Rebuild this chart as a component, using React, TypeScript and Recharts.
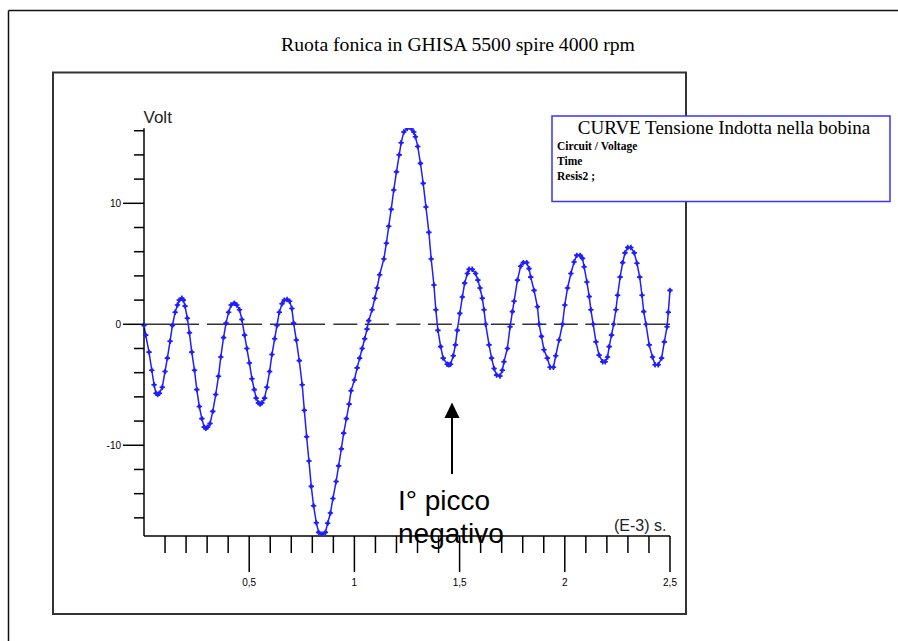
import { LineChart, Line, XAxis, YAxis, ReferenceLine } from 'recharts';

// samples: [time (ms), volt]
const seg0: [number, number][] = [
  [0, -0.1], [0.008, -0.9], [0.024, -2.3], [0.037, -3.8], [0.048, -5.0], [0.057, -5.7],
  [0.065, -5.8], [0.073, -5.7], [0.087, -5.2], [0.1, -3.9], [0.111, -2.8], [0.124, -1.4],
  [0.135, -0.1], [0.148, 1.0], [0.159, 1.6], [0.168, 2.0], [0.18, 2.15], [0.187, 2.0],
  [0.195, 1.5], [0.206, 0.5], [0.216, -0.7], [0.227, -2.3], [0.24, -3.8],
];
const seg1: [number, number][] = [
  [0.251, -5.4], [0.263, -6.8], [0.275, -7.8], [0.286, -8.5], [0.294, -8.6], [0.302, -8.5],
  [0.314, -8.2], [0.327, -7.2], [0.341, -5.8], [0.354, -4.3], [0.365, -2.7], [0.378, -1.1],
  [0.39, 0.1], [0.402, 1.0], [0.414, 1.6], [0.429, 1.75], [0.441, 1.6], [0.454, 1.2],
  [0.465, 0.4], [0.478, -0.9], [0.489, -2.0],
];
const seg2: [number, number][] = [
  [0.501, -3.2], [0.513, -4.5], [0.524, -5.4], [0.533, -6.1], [0.544, -6.5], [0.552, -6.6],
  [0.56, -6.5], [0.573, -6.1], [0.584, -5.2], [0.597, -3.9], [0.608, -2.5], [0.621, -1.2],
  [0.632, -0.1], [0.643, 1.0], [0.656, 1.7], [0.667, 2.0], [0.68, 2.05], [0.692, 1.9],
  [0.703, 1.3], [0.711, 0.1], [0.724, -1.3], [0.738, -3.0],
];
const seg3: [number, number][] = [
  [0.752, -5.0], [0.762, -7.1], [0.773, -9.3], [0.784, -11.3], [0.795, -13.4], [0.806, -15.0],
  [0.819, -16.4], [0.83, -17.2], [0.846, -17.35], [0.862, -17.2], [0.873, -16.45], [0.886, -15.6],
  [0.898, -14.4], [0.913, -13.0], [0.925, -11.7], [0.938, -10.3], [0.949, -9.0], [0.962, -7.8],
  [0.975, -6.6], [0.984, -5.5],
];
const seg4: [number, number][] = [
  [1.0, -4.6], [1.013, -3.6], [1.025, -2.8], [1.037, -2.0], [1.049, -1.2], [1.06, -0.4],
  [1.068, 0.3], [1.084, 1.2], [1.097, 2.15], [1.108, 3.0], [1.12, 4.1], [1.14, 5.4],
  [1.152, 6.7], [1.163, 8.1], [1.175, 9.5], [1.187, 11.1], [1.2, 12.6], [1.213, 14.0],
  [1.222, 15.0], [1.235, 15.9],
];
const seg5: [number, number][] = [
  [1.251, 16.2], [1.26, 16.3], [1.27, 16.2], [1.282, 15.9], [1.29, 15.5], [1.301, 14.7],
  [1.314, 13.3], [1.327, 11.65], [1.34, 9.7], [1.354, 7.6], [1.365, 5.4], [1.378, 3.25],
  [1.387, 1.2], [1.397, -0.5], [1.41, -1.85], [1.422, -2.8], [1.441, -3.3], [1.449, -3.35],
  [1.457, -3.3], [1.47, -2.6], [1.48, -1.7], [1.489, -0.5],
];
const seg6: [number, number][] = [
  [1.501, 0.9], [1.513, 2.25], [1.524, 3.4], [1.537, 4.2], [1.545, 4.55], [1.56, 4.55],
  [1.576, 4.2], [1.587, 3.65], [1.597, 3.0], [1.608, 2.15], [1.616, 1.2], [1.624, 0.0],
  [1.64, -1.7], [1.652, -2.8], [1.664, -3.65], [1.676, -4.2], [1.692, -4.27], [1.703, -3.8],
  [1.711, -3.1], [1.727, -2.0], [1.74, -0.2],
];
const seg7: [number, number][] = [
  [1.751, 1.05], [1.759, 1.9], [1.775, 3.65], [1.79, 4.8], [1.803, 5.1], [1.819, 5.1],
  [1.83, 4.6], [1.838, 3.9], [1.854, 2.8], [1.87, 1.45], [1.878, 0.0], [1.889, -1.0],
  [1.901, -2.1], [1.917, -2.8], [1.93, -3.55], [1.946, -3.55], [1.957, -2.6], [1.973, -1.3],
  [1.989, 0.0],
];
const seg8: [number, number][] = [
  [2.0, 1.6], [2.013, 3.0], [2.029, 4.2], [2.044, 5.15], [2.057, 5.7], [2.073, 5.7],
  [2.084, 5.45], [2.092, 4.75], [2.105, 3.5], [2.116, 2.3], [2.124, 1.2], [2.135, 0.0],
  [2.148, -1.45], [2.163, -2.55], [2.18, -3.1], [2.192, -3.1], [2.203, -2.7], [2.211, -1.85],
  [2.222, -0.9], [2.232, 0.0], [2.243, 1.2],
];
const seg9: [number, number][] = [
  [2.251, 2.4], [2.263, 3.9], [2.275, 5.1], [2.286, 5.9], [2.299, 6.35], [2.314, 6.35],
  [2.33, 5.9], [2.343, 5.05], [2.356, 3.9], [2.367, 2.4], [2.375, 1.05], [2.386, 0.0],
  [2.401, -1.7], [2.417, -2.7], [2.429, -3.35], [2.444, -3.35], [2.46, -2.8], [2.473, -1.45],
  [2.486, -0.2], [2.492, 1.0], [2.5, 2.8],
];

const Y_TICKS = [-16, -14, -12, -10, -8, -6, -4, -2, 0, 2, 4, 6, 8, 10, 12, 14, 16];
const Y_MAJOR = [-10, 0, 10];
const X_TICKS = [0.1, 0.2, 0.3, 0.4, 0.5, 0.6, 0.7, 0.8, 0.9, 1, 1.1, 1.2, 1.3, 1.4, 1.5,
  1.6, 1.7, 1.8, 1.9, 2, 2.1, 2.2, 2.3, 2.4, 2.5];
const X_MAJOR = [0.5, 1, 1.5, 2, 2.5];
const X_MAJOR_LABELS = ['0,5', '1', '1,5', '2', '2,5'];

const LEGEND_TITLE = 'CURVE Tensione Indotta nella bobina';
const LEGEND_LINES = ['Circuit / Voltage', 'Time', 'Resis2 ;'];

const data = [...seg0, ...seg1, ...seg2, ...seg3, ...seg4, ...seg5, ...seg6, ...seg7, ...seg8, ...seg9]
  .map(([t, v]) => ({ t, v }));

const BLUE = '#1e1eff';
const SANS = '"Liberation Sans", Arial, sans-serif';
const SERIF = '"Liberation Serif", "Times New Roman", serif';

function YTick({ x, y, payload }: any) {
  const major = Y_MAJOR.includes(payload.value);
  const len = major ? 21 : 10;
  return (
    <g>
      <line x1={x - len} x2={x} y1={y} y2={y} stroke="#000" strokeWidth={1.5} />
      {major && (
        <text x={x - 23} y={y + 4} textAnchor="end" fontSize={10} fontFamily={SANS} fill="#000">
          {payload.value}
        </text>
      )}
    </g>
  );
}

function XTick({ x, y, payload }: any) {
  const i = X_MAJOR.indexOf(payload.value);
  const len = i >= 0 ? 36 : 17;
  return (
    <g>
      <line x1={x} x2={x} y1={y} y2={y + len} stroke="#000" strokeWidth={1.5} />
      {i >= 0 && (
        <text x={x} y={y + 50} textAnchor="middle" fontSize={10} fontFamily={SANS} fill="#000">
          {X_MAJOR_LABELS[i]}
        </text>
      )}
    </g>
  );
}

function Marker({ cx, cy, index }: any) {
  return (
    <g key={index}>
      <path d={`M${cx - 2.7},${cy}h5.4M${cx},${cy - 2.7}v5.4`} stroke={BLUE} strokeWidth={1.6} />
      <circle cx={cx} cy={cy} r={1.8} fill={BLUE} />
    </g>
  );
}

export default function App() {
  return (
    <div style={{ position: 'absolute', left: 0, top: 0, width: 898, height: 641, background: '#fff' }}>
      <LineChart width={898} height={641} data={data}
        margin={{ top: 128.3, right: 228, bottom: 75, left: 84 }}>
        <XAxis type="number" dataKey="t" domain={[0, 2.5]} ticks={X_TICKS} height={30}
          axisLine={{ stroke: '#000', strokeWidth: 1.5 }} tickLine={false}
          tickSize={0} tickMargin={0} tick={<XTick />} interval={0} />
        <YAxis type="number" domain={[-17.5, 16.2]} ticks={Y_TICKS} width={60}
          axisLine={{ stroke: '#000', strokeWidth: 1.5 }} tickLine={false}
          tickSize={0} tickMargin={0} tick={<YTick />} interval={0} allowDataOverflow />
        <ReferenceLine segment={[{ x: 0, y: 0 }, { x: 0.862, y: 0 }]} stroke="#333" strokeWidth={1.5} strokeDasharray="55 8" />
        <ReferenceLine segment={[{ x: 0.9, y: 0 }, { x: 2.5, y: 0 }]} stroke="#333" strokeWidth={1.5} strokeDasharray="24 7.5" />
        <Line type="linear" dataKey="v" stroke={BLUE} strokeWidth={1.5} dot={Marker}
          activeDot={false} isAnimationActive={false} />
      </LineChart>
      <svg width={898} height={641} style={{ position: 'absolute', left: 0, top: 0, pointerEvents: 'none' }}>
        <line x1={8.5} y1={10.5} x2={898} y2={10.5} stroke="#111" strokeWidth={1.5} />
        <line x1={8.5} y1={10.5} x2={8.5} y2={641} stroke="#111" strokeWidth={1.5} />
        <rect x={53} y={72.5} width={633} height={541.5} fill="none" stroke="#333" strokeWidth={2} />
        <text x={458} y={51} textAnchor="middle" fontSize={19.7} fontFamily={SERIF} fill="#000">
          Ruota fonica in GHISA 5500 spire 4000 rpm
        </text>
        <rect x={552} y={116} width={338} height={85.5} fill="#fff" stroke="#3535ff" strokeWidth={1.5} />
        <text x={724} y={134} textAnchor="middle" fontSize={19} fontFamily={SERIF} fill="#000">{LEGEND_TITLE}</text>
        {LEGEND_LINES.map((s, i) => (
          <text key={s} x={557} y={150 + i * 15} fontSize={11.5} fontWeight="bold" fontFamily={SERIF} fill="#000">{s}</text>
        ))}
        <text x={143.5} y={123} fontSize={17} fontFamily={SANS} fill="#222">Volt</text>
        <text x={614} y={531} fontSize={16} fontFamily={SANS} fill="#222">(E-3) s.</text>
        <line x1={452} y1={474} x2={452} y2={414} stroke="#000" strokeWidth={2} />
        <path d="M444.5,418 L452,402.5 L459.5,418 Z" fill="#000" />
        <text x={398} y={510} fontSize={28} fontFamily={SANS} fill="#000">I° picco</text>
        <text x={398} y={543} fontSize={28} fontFamily={SANS} fill="#000">negativo</text>
      </svg>
    </div>
  );
}
